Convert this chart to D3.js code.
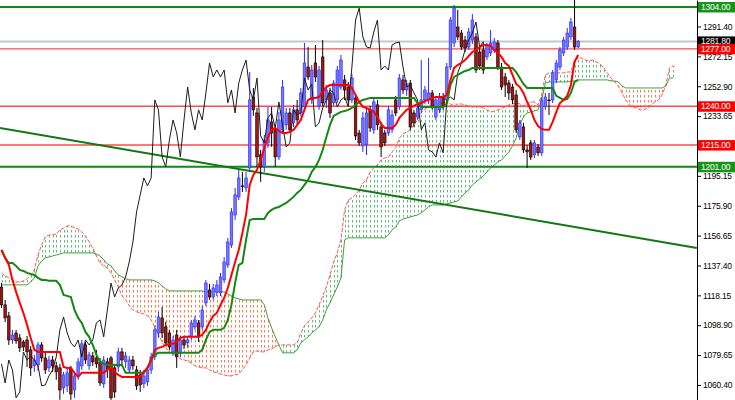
<!DOCTYPE html>
<html><head><meta charset="utf-8">
<script src="https://cdn.jsdelivr.net/npm/d3@7"></script>
<style>
html,body{margin:0;padding:0;background:#fff;}
svg{display:block;}
</style></head><body>
<svg id="c" width="735" height="400"></svg>
<script>
// ---- DATA (prices) ----
// candles: [open, high, low, close]
const candles = [
[1123.5,1126.1,1110.0,1112.0],[1112.0,1115.2,1101.0,1103.6],[1104.9,1107.5,1086.2,1089.4],[1089.4,1095.9,1086.9,1092.6],[1093.9,1095.9,1086.9,1088.8],
[1090.7,1093.3,1081.7,1084.3],[1088.1,1089.4,1082.3,1084.9],[1089.4,1092.0,1072.0,1081.7],[1083.0,1085.6,1066.2,1071.4],[1072.7,1079.8,1068.8,1076.5],
[1073.3,1088.1,1069.5,1086.2],[1086.2,1088.1,1075.3,1077.8],[1077.8,1081.7,1067.5,1070.1],[1071.4,1079.1,1068.8,1076.5],[1076.5,1079.1,1068.8,1072.7],
[1072.7,1075.3,1063.7,1068.8],[1071.4,1074.0,1050.8,1057.2],[1058.5,1068.8,1054.6,1066.9],[1059.8,1071.4,1055.9,1068.2],[1070.7,1072.7,1050.8,1054.6],
[1057.2,1068.8,1052.1,1066.2],[1066.2,1077.8,1063.7,1075.3],[1072.7,1089.4,1070.1,1086.9],[1086.2,1088.1,1074.0,1076.5],[1072.7,1081.7,1070.1,1079.8],
[1079.1,1081.7,1072.7,1075.3],[1077.8,1083.0,1071.4,1074.0],[1075.3,1077.8,1059.8,1061.7],[1061.1,1079.1,1058.5,1076.5],[1075.3,1077.8,1064.9,1070.1],
[1077.8,1079.1,1050.8,1052.1],[1071.4,1074.0,1052.1,1055.9],[1072.0,1084.3,1068.8,1081.7],[1081.7,1084.3,1072.7,1076.5],[1075.3,1081.7,1071.4,1079.1],
[1070.1,1079.1,1068.2,1076.5],[1076.5,1079.1,1070.1,1072.7],[1070.1,1072.7,1057.2,1059.8],[1066.9,1070.1,1055.9,1060.4],[1061.1,1070.1,1058.5,1066.2],
[1062.4,1072.7,1059.8,1070.1],[1070.1,1081.1,1067.5,1078.5],[1078.5,1098.4,1076.5,1095.9],[1093.9,1107.5,1090.7,1104.2],[1103.6,1110.7,1090.7,1093.9],
[1097.8,1101.0,1085.6,1087.5],[1093.9,1095.9,1083.0,1084.9],[1081.7,1092.0,1079.1,1089.4],[1092.6,1095.9,1071.4,1078.5],[1081.1,1092.0,1078.5,1089.4],
[1089.4,1091.4,1083.6,1086.2],[1087.5,1092.0,1084.3,1089.4],[1091.4,1102.3,1089.4,1100.4],[1097.8,1104.9,1095.9,1102.3],[1100.4,1102.3,1088.1,1091.4],
[1097.8,1111.3,1095.9,1108.7],[1113.3,1128.0,1111.3,1126.1],[1121.6,1125.5,1115.2,1117.1],[1117.1,1125.5,1115.2,1122.9],[1120.3,1128.0,1117.7,1124.8],
[1119.7,1132.6,1117.7,1130.0],[1128.1,1142.9,1126.1,1139.7],[1137.7,1155.1,1135.8,1152.5],[1150.6,1174.4,1148.7,1171.9],[1169.9,1187.4,1166.7,1182.9],
[1181.6,1199.0,1179.6,1193.8],[1188.7,1197.7,1184.8,1188.7],[1187.4,1197.7,1184.8,1193.8],[1200.3,1262.1,1197.7,1244.1],[1246.0,1251.8,1233.8,1237.7],
[1235.7,1238.9,1200.9,1207.4],[1208.7,1211.9,1191.3,1200.9],[1200.9,1221.5,1197.7,1218.3],[1216.4,1239.6,1213.2,1231.2],[1229.9,1239.6,1213.8,1222.8],
[1224.8,1228.0,1200.9,1207.4],[1207.4,1236.4,1205.4,1231.2],[1224.8,1257.0,1222.8,1252.4],[1228.0,1238.9,1224.8,1235.7],[1235.7,1238.9,1222.8,1224.8],
[1229.3,1240.9,1226.7,1237.7],[1237.7,1244.1,1228.6,1231.2],[1235.7,1251.8,1233.8,1248.6],[1239.6,1280.8,1237.7,1267.9],[1265.3,1278.2,1257.0,1258.9],
[1244.1,1266.6,1241.5,1263.4],[1267.9,1279.5,1255.7,1258.9],[1240.2,1266.0,1237.7,1263.4],[1271.8,1282.7,1240.2,1242.2],[1244.1,1253.7,1238.9,1250.5],
[1248.6,1251.8,1232.5,1235.7],[1242.2,1257.0,1240.2,1255.0],[1244.1,1266.0,1242.2,1263.4],[1252.4,1273.1,1250.5,1269.8],[1257.0,1260.2,1244.1,1250.5],
[1252.4,1255.7,1241.5,1244.1],[1244.1,1260.8,1242.2,1258.2],[1245.4,1247.9,1218.3,1220.9],[1222.8,1224.8,1214.5,1216.4],[1214.4,1236.4,1210.6,1232.5],
[1215.1,1238.9,1208.6,1235.7],[1237.7,1240.2,1223.5,1226.0],[1224.8,1245.4,1222.2,1242.8],[1240.9,1244.1,1224.8,1228.0],[1226.7,1229.9,1207.3,1213.8],
[1222.8,1224.8,1214.4,1216.4],[1222.8,1240.2,1220.9,1237.7],[1224.8,1237.7,1222.8,1234.4],[1244.1,1246.7,1233.8,1235.7],[1239.6,1260.8,1237.7,1258.2],
[1257.0,1260.2,1247.9,1250.5],[1250.5,1257.0,1246.7,1254.4],[1255.0,1257.0,1224.8,1226.7],[1235.7,1237.7,1226.7,1229.3],[1233.1,1241.5,1231.2,1238.9],
[1237.7,1269.8,1235.7,1244.1],[1244.1,1253.1,1241.5,1250.5],[1244.1,1271.1,1241.5,1248.6],[1248.6,1250.5,1237.7,1239.6],[1233.1,1246.7,1231.2,1244.1],
[1237.7,1248.6,1235.7,1246.0],[1246.0,1248.6,1237.7,1239.6],[1244.1,1267.9,1241.5,1265.3],[1265.3,1297.5,1263.4,1295.6],[1280.8,1305.3,1278.2,1303.3],
[1291.1,1302.1,1282.7,1284.7],[1287.2,1289.2,1276.3,1278.2],[1282.7,1285.3,1275.0,1277.6],[1278.2,1290.5,1276.3,1287.9],[1282.7,1299.5,1280.2,1295.6],
[1284.7,1287.2,1261.5,1263.4],[1275.0,1279.5,1263.4,1266.0],[1276.3,1281.4,1260.8,1263.4],[1271.8,1280.8,1269.8,1279.5],[1274.4,1289.2,1272.4,1280.8],
[1276.3,1284.0,1274.4,1281.4],[1280.8,1282.7,1263.4,1265.3],[1265.3,1267.9,1250.5,1252.4],[1258.9,1261.5,1246.0,1253.7],[1255.0,1257.0,1244.1,1248.6],
[1252.4,1254.4,1241.5,1244.1],[1247.3,1250.5,1222.8,1224.8],[1220.3,1231.2,1218.3,1229.3],[1226.7,1229.3,1209.9,1211.9],[1211.9,1215.1,1200.3,1210.6],
[1216.4,1218.3,1205.4,1207.3],[1208.7,1218.3,1206.7,1216.4],[1213.8,1215.7,1208.0,1210.0],[1210.0,1246.0,1208.0,1244.1],[1239.6,1248.6,1237.7,1246.0],
[1244.1,1248.6,1234.4,1244.1],[1244.1,1263.4,1242.1,1261.5],[1257.0,1269.8,1255.0,1267.9],[1265.3,1278.2,1263.4,1276.3],[1274.4,1284.7,1272.4,1282.7],
[1278.2,1290.5,1276.3,1287.2],[1284.7,1296.9,1282.7,1294.3],[1291.1,1313.7,1276.3,1278.2],[1278.2,1282.7,1277.6,1281.8]
];

const tenkan = [
1147.4,1142.3,1137.8,1128.1,1120.4,1113.3,1106.8,1099.1,1090.7,1083.0,
1081.7,1081.7,1081.7,1081.7,1081.7,1081.7,1081.7,1072.0,1071.4,1071.4,
1068.2,1065.6,1068.2,1068.2,1068.2,1068.2,1068.2,1068.2,1068.2,1070.1,
1072.0,1068.8,1066.9,1065.6,1065.6,1065.6,1065.6,1065.6,1065.6,1068.8,
1071.4,1076.5,1083.0,1084.3,1084.9,1086.2,1086.9,1086.9,1088.1,1090.7,
1091.4,1091.4,1091.4,1091.4,1091.4,1092.7,1095.9,1101.0,1104.9,1106.8,
1112.0,1116.5,1122.9,1131.3,1139.7,1147.4,1158.4,1170.0,1189.3,1195.7,
1199.0,1205.4,1213.1,1220.2,1224.8,1226.0,1224.1,1222.8,1222.8,1223.5,
1224.8,1228.0,1231.2,1237.7,1244.1,1245.4,1245.4,1246.0,1249.2,1252.4,
1253.7,1253.7,1253.7,1253.7,1253.7,1253.7,1251.8,1247.3,1242.8,1239.6,
1238.9,1237.7,1236.4,1233.1,1228.6,1226.0,1226.0,1226.0,1228.0,1232.5,
1235.1,1237.7,1238.9,1240.2,1241.5,1242.1,1243.4,1244.1,1245.4,1246.0,
1246.0,1246.0,1247.3,1257.0,1264.7,1266.6,1267.9,1269.8,1272.4,1275.0,
1276.3,1278.2,1279.5,1279.5,1278.9,1276.3,1274.4,1271.8,1267.9,1266.0,
1260.2,1254.4,1252.4,1248.6,1242.8,1237.7,1231.2,1227.3,1225.4,1224.8,
1224.8,1229.9,1236.4,1242.1,1244.1,1246.7,1253.7,1268.6,1273.1
];

const kijun = [
1147.4,1142.3,1139.0,1139.0,1137.1,1134.5,1133.9,1132.6,1132.0,1131.3,
1129.4,1128.1,1128.1,1127.5,1127.5,1127.5,1124.9,1118.4,1117.8,1117.1,
1108.8,1103.6,1100.4,1094.6,1091.4,1086.2,1079.8,1075.3,1074.0,1073.3,
1073.3,1073.3,1073.3,1073.3,1068.2,1068.2,1068.2,1068.2,1068.2,1068.2,
1071.4,1076.5,1079.8,1081.1,1081.1,1081.1,1081.1,1081.1,1081.1,1081.1,
1081.1,1081.1,1081.1,1081.1,1081.1,1083.0,1089.4,1094.6,1095.9,1095.9,
1095.9,1097.2,1102.3,1112.0,1126.2,1137.8,1139.0,1153.9,1166.7,1167.4,
1167.4,1167.4,1167.4,1171.3,1173.2,1174.5,1175.1,1176.4,1177.7,1179.6,
1181.6,1184.2,1186.1,1189.3,1192.5,1197.7,1200.9,1205.4,1211.8,1220.2,
1228.0,1233.8,1235.1,1236.4,1237.0,1237.7,1238.9,1240.9,1242.8,1244.1,
1244.7,1245.4,1245.4,1245.4,1245.4,1245.4,1245.4,1245.4,1245.4,1245.4,
1245.4,1245.4,1245.4,1245.4,1242.1,1239.6,1239.6,1239.6,1239.6,1239.6,
1239.6,1239.6,1241.5,1253.7,1258.9,1260.2,1261.5,1262.8,1263.4,1264.7,
1264.7,1264.7,1264.7,1264.7,1264.7,1264.7,1264.7,1264.7,1264.7,1264.7,
1264.7,1262.1,1258.2,1254.4,1251.8,1251.8,1251.8,1251.8,1251.8,1251.8,
1251.8,1251.8,1246.7,1245.4,1244.1,1244.7,1248.6,1255.7,1257.0
];

// Senkou spans, already plotted 26 bars ahead (index = bar position)
const spanA = [
1132.6,1130.7,1129.4,1128.1,1126.8,1126.8,1127.5,1128.8,1131.3,1134.5,
1144.2,1150.6,1155.8,1157.1,1157.1,1157.7,1160.3,1161.6,1162.9,1162.9,
1161.6,1161.0,1159.0,1156.4,1152.6,1148.7,1143.5,1139.0,1137.1,1135.8,
1132.6,1128.1,1123.6,1117.8,1115.2,1111.4,1108.8,1107.5,1106.8,1106.2,
1104.9,1102.3,1097.8,1092.7,1088.1,1084.3,1081.7,1080.4,1079.1,1077.2,
1076.5,1075.9,1074.6,1072.7,1072.0,1071.4,1071.4,1070.1,1068.8,1068.2,
1067.5,1066.9,1066.2,1066.2,1066.9,1067.5,1070.1,1073.3,1077.8,1081.7,
1082.3,1081.7,1081.7,1083.0,1083.6,1084.9,1086.2,1086.2,1086.2,1086.2,
1086.2,1087.5,1093.9,1098.5,1101.0,1103.6,1106.8,1112.0,1117.8,1123.6,
1131.3,1139.7,1145.5,1153.9,1173.2,1179.6,1180.9,1182.9,1186.1,1190.6,
1192.5,1197.7,1200.3,1202.2,1205.4,1206.7,1207.3,1210.6,1213.1,1219.6,
1222.2,1223.5,1224.8,1228.0,1231.2,1235.7,1238.3,1239.6,1240.2,1240.9,
1242.1,1242.1,1242.1,1241.5,1240.2,1241.5,1241.5,1240.9,1240.2,1239.6,
1239.6,1239.6,1238.9,1237.7,1236.4,1237.0,1237.7,1238.9,1239.6,1240.9,
1241.5,1242.1,1241.5,1240.2,1241.5,1242.8,1242.8,1240.9,1247.3,1260.2,
1261.5,1261.5,1261.5,1261.5,1261.5,1262.1,1262.1,1269.8,1271.1,1271.1,
1269.8,1269.2,1269.8,1268.6,1267.3,1264.7,1261.5,1258.2,1255.7,1253.1,
1248.6,1244.1,1240.9,1239.6,1238.9,1237.7,1237.7,1238.9,1240.9,1242.8,
1244.1,1247.3,1253.7,1264.7,1266.0
];
const spanB = [
1124.9,1124.9,1124.9,1124.9,1124.9,1124.9,1124.9,1124.9,1126.8,1129.4,
1137.1,1140.3,1142.3,1142.9,1143.5,1144.2,1144.8,1145.5,1145.5,1145.5,
1145.5,1145.5,1145.5,1145.5,1145.5,1145.5,1144.8,1143.5,1141.0,1138.4,
1137.1,1133.9,1131.3,1130.1,1128.8,1128.1,1128.1,1128.1,1128.1,1128.1,
1128.1,1128.1,1127.5,1126.2,1124.2,1122.3,1121.0,1121.0,1121.0,1121.0,
1121.0,1121.0,1121.0,1121.0,1121.0,1121.0,1120.4,1120.4,1120.4,1120.4,
1120.4,1120.4,1119.1,1117.8,1116.5,1115.9,1115.2,1115.2,1115.2,1115.2,
1115.2,1115.2,1112.0,1103.6,1097.2,1091.4,1086.2,1081.1,1081.1,1081.1,
1081.1,1083.0,1087.5,1089.4,1091.4,1093.9,1095.9,1097.8,1102.3,1108.8,
1113.3,1118.4,1123.6,1129.4,1153.9,1155.2,1155.2,1155.2,1155.2,1155.2,
1155.2,1155.2,1155.2,1155.2,1155.2,1155.2,1157.1,1160.3,1162.2,1166.1,
1167.4,1168.0,1168.7,1169.3,1170.0,1171.3,1173.2,1175.1,1176.4,1176.4,
1176.4,1176.4,1177.1,1177.7,1178.4,1179.0,1181.6,1184.2,1186.1,1189.3,
1191.2,1193.2,1195.1,1197.7,1200.3,1202.2,1204.2,1205.4,1208.0,1210.6,
1214.4,1219.6,1228.0,1233.1,1235.7,1236.4,1237.0,1237.7,1244.1,1255.0,
1255.7,1255.7,1255.7,1255.7,1255.7,1255.7,1256.3,1256.3,1257.0,1257.0,
1257.0,1257.0,1257.0,1257.0,1257.0,1257.0,1257.0,1256.3,1256.3,1255.7,
1253.1,1251.8,1251.8,1251.8,1251.8,1251.8,1251.8,1251.8,1251.8,1251.8,
1251.8,1251.8,1253.1,1258.2,1258.2
];
const chikouShift = 26;

// 1214.40 lies under the 1215.00 box in the reference, so it is not shown
const tickLabels = [1060.40,1079.65,1098.90,1118.15,1137.40,1156.65,1175.90,1195.15,1233.65,1252.90,1272.15,1291.40,1310.65];
const levels = [1304.00, 1201.00, 1240.00, 1215.00, 1281.80, 1277.00];
const levelKinds = ["green","green","red","red","bid","red"];
const trendBars = [-0.4, 190.5];
const trendPrices = [1226.0, 1148.7];

// ---- DRAW ----
const plotRight = 697;
const x = d3.scaleLinear().domain([0, 184]).range([1.5, 1.5 + 3.65 * 184]);
const y = d3.scaleLinear().domain([1050.7, 1308.5]).range([400, 0]);

const svg = d3.select("#c");
svg.append("defs").append("clipPath").attr("id", "plot")
  .append("rect").attr("x", 0).attr("y", 0).attr("width", plotRight).attr("height", 400);
const g = svg.append("g").attr("clip-path", "url(#plot)");

// cloud (dotted columns)
const cloudIdx = d3.range(spanA.length).filter(i => spanA[i] !== spanB[i]);
g.append("g").selectAll("line").data(cloudIdx).join("line")
  .attr("x1", i => Math.round(x(i)) + 0.5).attr("x2", i => Math.round(x(i)) + 0.5)
  .attr("y1", i => Math.min(y(spanA[i]), y(spanB[i])))
  .attr("y2", i => Math.max(y(spanA[i]), y(spanB[i])))
  .attr("stroke", i => spanA[i] > spanB[i] ? "#5cbd78" : "#ff7a4a")
  .attr("stroke-width", 1)
  .attr("stroke-dasharray", "2.5 2.5")
  .attr("stroke-dashoffset", i => Math.min(y(spanA[i]), y(spanB[i])) % 5);

const line = d3.line().x((d, i) => x(i)).y(d => y(d));
g.append("path").attr("d", line(spanB)).attr("fill", "none")
  .attr("stroke", "#3f9f3f").attr("stroke-width", 1);
g.append("path").attr("d", line(spanA)).attr("fill", "none")
  .attr("stroke", "#ff5656").attr("stroke-width", 1).attr("stroke-dasharray", "4 1.5");

// horizontal levels
const levelStroke = {green: "#118a11", red: "#ff4a4a", bid: "#c2c8d2"};
const levelWidth = {green: 2, red: 1.4, bid: 2};
g.append("g").selectAll("line").data(levels).join("line")
  .attr("x1", 0).attr("x2", plotRight)
  .attr("y1", d => y(d)).attr("y2", d => y(d))
  .attr("stroke", (d, i) => levelStroke[levelKinds[i]])
  .attr("stroke-width", (d, i) => levelWidth[levelKinds[i]]);

// trend line
g.append("line")
  .attr("x1", x(trendBars[0])).attr("y1", y(trendPrices[0]))
  .attr("x2", x(trendBars[1])).attr("y2", y(trendPrices[1]))
  .attr("stroke", "#127812").attr("stroke-width", 2);

// candles
const cg = g.append("g");
const bull = d => d[3] > d[0];
cg.selectAll("line").data(candles).join("line")
  .attr("x1", (d, i) => x(i)).attr("x2", (d, i) => x(i))
  .attr("y1", d => y(d[1])).attr("y2", d => y(d[2]))
  .attr("stroke", d => bull(d) ? "#2a2aff" : "#000")
  .attr("stroke-width", 1);
cg.selectAll("rect").data(candles).join("rect")
  .attr("x", (d, i) => x(i) - 1.3).attr("width", 2.6)
  .attr("y", d => y(Math.max(d[0], d[3])))
  .attr("height", d => Math.max(0.8, Math.abs(y(d[0]) - y(d[3]))))
  .attr("fill", d => bull(d) ? "#7474ff" : "#a81212")
  .attr("stroke", d => bull(d) ? "#2a2aff" : "#000")
  .attr("stroke-width", 0.6);

// chikou span: closes plotted 26 bars back
const closes = candles.map(d => d[3]);
const chikouLine = d3.line().x((d, i) => x(i)).y(d => y(d));
g.append("path").attr("d", chikouLine(closes.slice(chikouShift)))
  .attr("fill", "none").attr("stroke", "#1c1c1c").attr("stroke-width", 1);

// kijun & tenkan
g.append("path").attr("d", line(kijun)).attr("fill", "none")
  .attr("stroke", "#128a12").attr("stroke-width", 2);
g.append("path").attr("d", line(tenkan)).attr("fill", "none")
  .attr("stroke", "#ff0000").attr("stroke-width", 2);

// right price axis
const ax = svg.append("g").attr("transform", `translate(${plotRight},0)`)
  .call(d3.axisRight(y).tickValues(tickLabels).tickSize(4).tickSizeOuter(0).tickPadding(2)
    .tickFormat(d => d.toFixed(2)));
ax.attr("font-family", "'Liberation Sans', Arial, sans-serif").attr("font-size", 8.5);
ax.select(".domain").attr("stroke", "#000");
ax.selectAll(".tick line").attr("stroke", "#000");
ax.selectAll(".tick text").attr("fill", "#000").attr("letter-spacing", "-0.2");

// level price boxes
const boxFill = {green: "#16941a", red: "#ff0000", bid: "#000000"};
const lb = svg.append("g");
levels.forEach((v, i) => {
  const yy = y(v);
  lb.append("rect").attr("x", plotRight + 1).attr("y", yy - 5).attr("width", 38).attr("height", 10.5)
    .attr("fill", boxFill[levelKinds[i]]);
  lb.append("text").attr("x", plotRight + 4).attr("y", yy).attr("dy", "0.34em")
    .attr("font-family", "'Liberation Sans', Arial, sans-serif").attr("font-size", 8.5)
    .attr("letter-spacing", "-0.2").attr("fill", "#fff").text(v.toFixed(2));
});
</script>
</body></html>
